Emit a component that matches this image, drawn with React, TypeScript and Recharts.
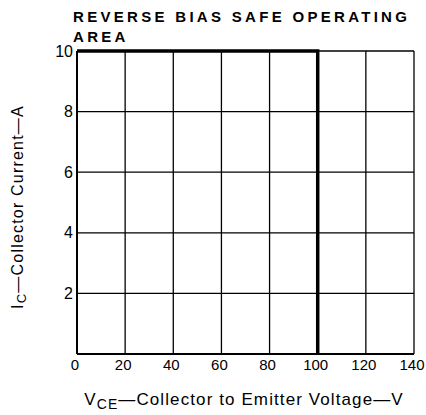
import React from "react";
import { LineChart, Line, XAxis, YAxis, CartesianGrid } from "recharts";

const voltageTicks = [0, 20, 40, 60, 80, 100, 120, 140];
const currentTicks = [0, 2, 4, 6, 8, 10];
// reverse bias SOA boundary
const soaVoltage = [0, 100, 100];
const soaCurrent = [10, 10, 0];

const data = soaVoltage.map((v, i) => ({ v, ic: soaCurrent[i] }));

const FONT = "'Liberation Sans', Arial, Helvetica, sans-serif";

function YLabel() {
  const cx = 17;
  const cy = 207;
  return (
    <text
      x={cx}
      y={cy}
      transform={`rotate(-90 ${cx} ${cy})`}
      textAnchor="middle"
      dominantBaseline="central"
      fontSize={16}
      letterSpacing={1.2}
      fontFamily={FONT}
      fill="#000"
    >
      I<tspan fontSize={13} dy={4}>C</tspan>
      <tspan dy={-4}>—Collector Current—A</tspan>
    </text>
  );
}

function XLabel() {
  return (
    <text x={244} y={405} textAnchor="middle" fontSize={17} letterSpacing={1.1} fontFamily={FONT} fill="#000">
      V<tspan fontSize={14} dy={4}>CE</tspan>
      <tspan dy={-4}>—Collector to Emitter Voltage—V</tspan>
    </text>
  );
}

export default function App() {
  return (
    <div style={{ position: "absolute", left: 0, top: 0, width: 426, height: 415, background: "#fff", fontFamily: FONT }}>
      <div
        style={{
          position: "absolute",
          left: 73,
          top: 7,
          fontSize: 15,
          letterSpacing: 3.3,
          lineHeight: "20px",
          color: "#000",
          fontWeight: 700,
        }}
      >
        REVERSE BIAS SAFE OPERATING
        <br />
        AREA
      </div>
      <LineChart width={426} height={415} data={data} margin={{ top: 51, right: 12, bottom: 0, left: 0 }}>
        <CartesianGrid stroke="#000" strokeWidth={1.3} />
        <XAxis
          type="number"
          dataKey="v"
          domain={[0, 140]}
          ticks={voltageTicks}
          interval={0}
          height={61}
          tickLine={false}
          tickSize={0}
          tickMargin={5}
          axisLine={{ stroke: "#000", strokeWidth: 2 }}
          tick={{ fill: "#000", fontSize: 15, fontFamily: FONT, dx: -2 }}
          label={<XLabel />}
        />
        <YAxis
          type="number"
          domain={[0, 10]}
          ticks={currentTicks}
          interval={0}
          width={77}
          tickLine={false}
          tickSize={0}
          tickMargin={4}
          tickFormatter={(t: number) => (t === 0 ? "" : String(t))}
          axisLine={{ stroke: "#000", strokeWidth: 2 }}
          tick={{ fill: "#000", fontSize: 16, fontFamily: FONT }}
          label={<YLabel />}
        />
        <Line
          type="linear"
          dataKey="ic"
          stroke="#000"
          strokeWidth={3.5}
          dot={false}
          isAnimationActive={false}
        />
      </LineChart>
    </div>
  );
}
